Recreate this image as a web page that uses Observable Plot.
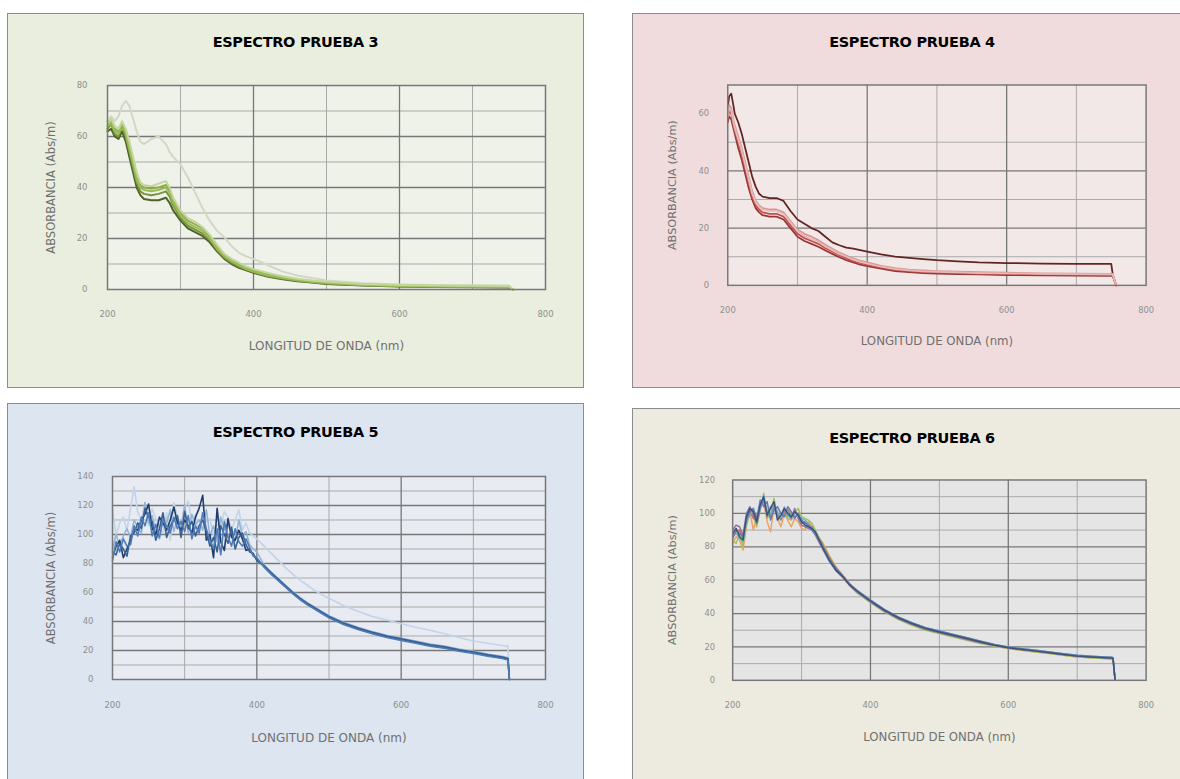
<!DOCTYPE html>
<html><head><meta charset="utf-8">
<script src="https://cdn.jsdelivr.net/npm/d3@7"></script>
<script src="https://cdn.jsdelivr.net/npm/@observablehq/plot@0.6"></script>
<style>
html,body{margin:0;padding:0;background:#fff}
body{width:1180px;height:779px;overflow:hidden;position:relative;font-family:"DejaVu Sans",sans-serif}
.panel{position:absolute;border:1.5px solid #8c8c8c;box-sizing:border-box}
.title{position:absolute;text-align:center;font-weight:bold;font-size:14.5px;line-height:18px;color:#000;letter-spacing:-0.3px}
.chart{position:absolute}
.chart svg{overflow:visible}
</style></head><body>
<script>
// ---------- shared tick labels ----------
const xTicks = [200, 400, 600, 800];
const xMajorGrid = [400, 600];
const xMinorGrid = [300, 500, 700];
const xTitle = "LONGITUD DE ONDA (nm)";
const yTitle = "ABSORBANCIA (Abs/m)";

// ---------- ESPECTRO PRUEBA 3 ----------
const wl3 = [200,205,210,215,220,225,230,235,240,245,250,260,270,280,285,290,300,310,320,330,340,350,360,370,380,390,400,420,440,460,480,500,550,600,650,700,750,755];
const p3Pale  = [66,68,66,68,72,74,72,67,62,58,57,59,60,57,54,52,49,44,38,32,27,23,20.5,17,14.5,13,12,9.5,7,5.5,4.5,3.5,2.5,2,1.8,1.7,1.6,0];
const p3Dark  = [62,63,60,59,62,58,52,46,40,37,35.5,35,35,36,34,31,27,24,22.5,21,18.5,15,12,10,8.5,7.5,6.5,5,4,3.2,2.7,2.2,1.6,1.2,1,0.9,0.8,0];
const p3Olive = [63,65,61,60,64,60,54,48,42,38.5,37.5,37,37.5,38.5,36.5,33,28,25,23.5,22,19.5,15.5,12.5,10.5,9,7.8,6.8,5.2,4.2,3.4,2.8,2.3,1.7,1.3,1.1,1,0.9,0];
const p3Mid2  = [66,64,63,62,63,62,56,50,44,41,40,39.5,40,41,39,35,30,27,25.5,24,21,16.5,13.5,11.5,10,8.5,7.5,6,4.8,3.9,3.2,2.7,2,1.6,1.4,1.3,1.2,0];
const p3Mid   = [64,66,62,61,65,61,55,49,43,40,39,38.5,39,40,38,34,29,26,24.5,23,20,16,13,11,9.5,8,7,5.5,4.5,3.6,3,2.5,1.8,1.4,1.2,1.1,1,0];
const p3Light = [65,67,64,63,66,63,58,52,46,42,41,40.5,41.5,42.5,40,36,31,28,26.5,24.5,21.5,17.5,14,12,10.5,9,8,6.5,5.2,4.2,3.5,3,2.2,1.8,1.6,1.5,1.4,0];
const p3Names  = ["P3-1","P3-2","P3-3","P3-4","P3-5","P3-6"];
const p3Colors = ["#d3d8c4","#4f6228","#77933c","#8fb04c","#9bbb59","#c3d69b"];
const p3YTicks = [0,20,40,60,80];

// ---------- ESPECTRO PRUEBA 4 ----------
const wl4 = [200,202,205,208,210,215,220,225,230,235,240,245,250,260,270,280,290,300,310,320,330,340,350,360,370,380,390,400,420,440,460,480,500,530,560,600,650,700,750,752,757];
const p4Dark   = [62,66,67,63,60,57,53,48,43,38,34.5,32,31,30.5,30.5,29.5,26,23,21.5,20,19,17,15,14,13.2,12.8,12.3,11.8,10.8,10,9.6,9.2,8.8,8.4,8,7.8,7.6,7.5,7.5,4,0];
const p4Maroon = [57,59,58,55,53,48,44,39,34,30,27,25.5,24.5,24,24,23,20,17,15.5,14.5,13.5,12.2,11,9.8,8.8,8,7.2,6.7,5.8,5,4.6,4.3,4.1,3.9,3.8,3.6,3.5,3.4,3.3,3.3,0];
const p4Red    = [58,61,60,56,54,50,46,41,36,31,28,26.5,25.5,25,25,24,21,18,16.5,15.5,14.5,13,11.8,10.5,9.5,8.5,7.8,7.2,6.2,5.4,5,4.7,4.5,4.3,4.1,4,3.8,3.7,3.6,3.6,0];
const p4Rose   = [60,63,62,58,56,52,48,43,38,33,29.5,28,27,26.5,26.5,25.5,22.5,19.5,18,17,15.8,14.2,12.8,11.5,10.4,9.4,8.6,8,6.8,6,5.5,5.2,5,4.8,4.6,4.4,4.2,4.1,4,4,0];
const p4Pink   = [59,62,61,57,55,51,47,42,37,32,29,27.5,26.5,26,26,25,22,19,17.2,16.2,15.2,13.6,12.3,11,10,9,8.2,7.6,6.5,5.7,5.2,4.9,4.7,4.5,4.3,4.2,4,3.9,3.8,3.8,0];
const p4Names  = ["P4-1","P4-2","P4-3","P4-4","P4-5"];
const p4Colors = ["#632523","#953735","#c0504d","#d99694","#e6b9b8"];
const p4YTicks = [0,20,40,60];

// ---------- ESPECTRO PRUEBA 5 ----------
const wl5 = [200,205,210,215,220,225,230,235,240,245,250,255,260,265,270,275,280,285,290,295,300,305,310,315,320,325,330,335,340,345,350,355,360,365,370,375,380,385,390,395,400,
             410,420,430,440,450,460,470,480,490,500,520,540,560,580,600,620,640,660,680,700,720,740,748,750];
const p5Pale = [118,99,108,112,103,118,133,115,110,122,106,118,111,104,101,115,96,122,112,105,118,123,108,114,101,113,109,111,99,107,105,116,112,104,110,117,103,108,101,99,97,
                92,87,82,77,72.5,68.5,65,61.5,58.5,56,51,47,43.5,41,38.5,36,34,31.5,29,26.5,25,23.5,23,0];
const p5D = [90,100,92,99,104,98,110,105,101,122,108,113,102,97,112,108,117,102,111,106,120,101,114,107,110,103,117,99,106,95,112,103,108,100,96,110,99,102,93,90,88,
             79,74,69.5,65,60.5,56.5,53,50,47,44,39.5,36,33,30.5,28.5,26.5,24.5,23,21,19.5,17.5,16,15,0];
const p5A = [84,92,96,84,90,96,104,103,110,114,121,104,100,112,108,103,110,119,108,103,110,106,101,112,118,127,96,100,84,118,95,89,111,98,96,103,97,89,90,86,83,
             78,73,68.5,64,59.5,55.5,52,49,46,43,38.5,35,32,29.5,27.5,25.5,23.5,22,20,18.5,16.5,15,14,0];
const p5B = [88,86,94,90,85,99,101,108,104,118,112,109,96,104,115,98,106,110,113,98,116,104,109,99,106,110,102,92,98,88,106,100,94,105,90,98,101,93,88,87,82,
             78.5,73.5,69,64.5,60,56,52.5,49.5,46.5,43.5,39,35.5,32.5,30,28,26,24,22.5,20.5,19,17,15.5,14.5,0];
const p5C = [82,95,88,97,92,93,106,99,112,106,115,99,107,98,110,106,101,112,104,109,102,113,97,106,101,115,104,96,90,104,86,109,98,92,104,95,92,97,91,85,84,
             77.5,72.5,68,63.5,59,55,51.5,48.5,45.5,42.5,38,34.5,31.5,29,27,25,23,21.5,19.5,18,16,14.5,13.5,0];
const p5Names  = ["P5-1","P5-2","P5-3","P5-4","P5-5"];
const p5Colors = ["#c2d3ea","#95b3d7","#1f3c6b","#376092","#4f7cb8"];
const p5YTicks = [0,20,40,60,80,100,120,140];

// ---------- ESPECTRO PRUEBA 6 ----------
const wl6 = [200,205,210,215,220,225,230,235,240,245,250,255,260,265,270,275,280,285,290,295,300,305,310,315,320,
             330,340,350,360,370,380,390,400,420,440,460,480,500,520,540,560,580,600,620,640,660,680,700,720,740,750,752,755];
const p6Orange = [82,86,84,78,92,101,90,98,104,108,95,89,104,97,92,100,96,92,97,95,91,90,95,92,88,
                  83,75,68,63,58,54,50.5,47.5,42,37,33.5,30.5,28.5,26.5,24.5,22.5,20.5,19,18,17,16,15,14,13.5,13,12.8,12.5,0];
const p6Green  = [84,82,88,80,94,100,98,92,102,112,97,100,109,98,97,101,97,96,100,103,98,97,96,94,90,
                  82,74,67.5,62,56.5,52.5,49.5,46.5,41,36.5,33,30,28,26,24,22,20.5,19,18,17,16,15,14,13.5,13,12.8,12.5,0];
const p6Purple = [90,93,92,87,100,104,99,94,103,109,101,98,105,100,96,102,99,97,103,97,93,92,91,90,87,
                  79,71.5,65.5,61.5,57,53,50,47,41.5,37,33.5,30.5,28.5,26.5,24.5,22.5,21,19.5,18.5,17.5,16.5,15.5,14.5,14,13.5,13.3,13,0];
const p6Red    = [87,89,90,85,97,102,97,96,106,107,98,104,103,99,98,101,102,99,98,100,94,95,93,92,88,
                  81.5,73.5,67,62,57,53.5,50.5,47.5,42,37.5,34,31,29,27,25,23,21,19.5,18.5,17.5,16.5,15.5,14.5,14,13.6,13.4,13.2,0];
const p6Aqua   = [86,88,85,83,95,99,102,96,104,111,100,99,106,101,97,104,98,100,99,98,97,96,94,91,89,
                  80.5,72.5,66.5,62,57.5,54,51,48,42.5,38,34.5,31.5,29.5,27.5,25.5,23.5,21.5,20,19,18,17,16,15,14.5,14,13.8,13.6,0];
const p6Blue   = [85,90,88,86,96,101,103,97,108,104,107,96,102,104,100,98,104,101,97,100,96,94,93,90,88,
                  81,73,67,62.5,57.5,54,51,48,42.5,38,34.5,31.5,29.5,27.5,25.5,23.5,21.5,20,19,18,17,16,15,14.5,14,13.8,13.5,0];
const p6Navy   = [88,91,86,84,98,103,101,95,105,110,99,103,107,96,99,103,100,98,101,99,95,93,92,91,89,
                  80,72,66,62,57,53.5,50.5,47.5,42,37.5,34,31,29,27,25,23,21,19.5,18.5,17.5,16.5,15.5,14.5,14,13.5,13.3,13,0];
const p6Names  = ["P6-1","P6-2","P6-3","P6-4","P6-5","P6-6","P6-7"];
const p6Colors = ["#f0a060","#a3c060","#8a72a8","#c46a66","#6ab2c8","#5b7fb0","#3b5378"];
const p6YTicks = [0,20,40,60,80,100,120];

// ---------- helpers ----------
function toRows(wl, names, lists) {
  return names.flatMap((name, k) => lists[k].map((v, i) => ({s: name, wl: wl[i], v})));
}

function addPanel(cfg) {
  const box = document.createElement("div");
  box.className = "panel";
  Object.assign(box.style, {left: cfg.box[0] + "px", top: cfg.box[1] + "px", width: cfg.box[2] + "px", height: cfg.box[3] + "px", background: cfg.bg});
  document.body.appendChild(box);

  const t = document.createElement("div");
  t.className = "title";
  t.textContent = cfg.title;
  Object.assign(t.style, {left: cfg.box[0] + "px", width: cfg.box[2] + "px", top: (cfg.titleY - 9) + "px"});
  document.body.appendChild(t);

  const yMajor = cfg.yTicks.slice(1, -1).filter(v => v < cfg.yMax);
  const chart = Plot.plot({
    width: cfg.svg[2], height: cfg.svg[3],
    marginTop: cfg.m[0], marginRight: cfg.m[1], marginBottom: cfg.m[2], marginLeft: cfg.m[3],
    style: {background: "transparent", fontFamily: "DejaVu Sans, sans-serif", fontSize: "8.5px"},
    x: {domain: [200, 800]},
    y: {domain: [0, cfg.yMax]},
    color: {type: "ordinal", domain: cfg.names, range: cfg.colors},
    marks: [
      Plot.frame({fill: cfg.plotBg, stroke: null}),
      Plot.gridX(xMinorGrid, {stroke: "#a9a9a9", strokeOpacity: 1, strokeWidth: 1}),
      Plot.gridY(cfg.yMinor, {stroke: "#a9a9a9", strokeOpacity: 1, strokeWidth: 1}),
      Plot.gridX(xMajorGrid, {stroke: "#777", strokeOpacity: 1, strokeWidth: 1.3}),
      Plot.gridY(yMajor, {stroke: "#777", strokeOpacity: 1, strokeWidth: 1.3}),
      Plot.line(cfg.rows, {x: "wl", y: "v", z: "s", stroke: "s", strokeWidth: cfg.sw}),
      Plot.frame({stroke: "#777", strokeWidth: 1.5}),
      Plot.axisX(xTicks, {tickSize: 0, tickPadding: cfg.xPad, fill: "#8f8f8f", fontSize: 8.5, label: null}),
      Plot.axisY(cfg.yTicks, {tickSize: 0, tickPadding: cfg.yPad, fill: "#8f8f8f", fontSize: 8.5, label: null}),
      Plot.text([xTitle], {text: d => d, frameAnchor: "bottom", dy: cfg.xTitleDy, fill: "#707070", fontSize: 12}),
      Plot.text([yTitle], {text: d => d, frameAnchor: "left", textAnchor: "middle", dx: cfg.yTitleDx, rotate: -90, fill: "#707070", fontSize: 11.5})
    ]
  });
  const wrap = document.createElement("div");
  wrap.className = "chart";
  Object.assign(wrap.style, {left: cfg.svg[0] + "px", top: cfg.svg[1] + "px"});
  wrap.appendChild(chart);
  document.body.appendChild(wrap);
}

addPanel({
  title: "ESPECTRO PRUEBA 3", box: [7, 13, 577, 375], bg: "#eaeedf", plotBg: "#eff2e9", titleY: 42,
  svg: [7, 58, 577, 310], m: [27, 39, 79, 100], yMax: 80, yTicks: p3YTicks, yMinor: [10,30,50,70],
  names: p3Names, colors: p3Colors, sw: 2,
  rows: toRows(wl3, p3Names, [p3Pale, p3Dark, p3Olive, p3Mid2, p3Mid, p3Light]),
  xPad: 21, yPad: 20, xTitleDy: 60, yTitleDx: -56
});
addPanel({
  title: "ESPECTRO PRUEBA 4", box: [632, 13, 560, 375], bg: "#f0dcdc", plotBg: "#f3e8e8", titleY: 42,
  svg: [632, 58, 558, 310], m: [27, 35, 79, 97], yMax: 70, yTicks: p4YTicks, yMinor: [10,30,50],
  names: p4Names, colors: p4Colors, sw: 1.8,
  rows: toRows(wl4, p4Names, [p4Dark, p4Maroon, p4Red, p4Rose, p4Pink]),
  xPad: 22, yPad: 19, xTitleDy: 61, yTitleDx: -56
});
addPanel({
  title: "ESPECTRO PRUEBA 5", box: [7, 403, 577, 380], bg: "#dce5f0", plotBg: "#e8ecf2", titleY: 432,
  svg: [7, 448, 577, 310], m: [28, 39, 79, 105], yMax: 140, yTicks: p5YTicks, yMinor: [10,30,50,70,90,110,130],
  names: p5Names, colors: p5Colors, sw: 1.6,
  rows: toRows(wl5, p5Names, [p5Pale, p5D, p5A, p5B, p5C]),
  xPad: 22, yPad: 19, xTitleDy: 62, yTitleDx: -61
});
addPanel({
  title: "ESPECTRO PRUEBA 6", box: [632, 408, 560, 380], bg: "#edebe0", plotBg: "#e5e5e5", titleY: 438,
  svg: [632, 452, 558, 310], m: [28, 35, 78, 102], yMax: 120, yTicks: p6YTicks, yMinor: [10,30,50,70,90,110],
  names: p6Names, colors: p6Colors, sw: 1.5,
  rows: toRows(wl6, p6Names, [p6Orange, p6Green, p6Purple, p6Red, p6Aqua, p6Blue, p6Navy]),
  xPad: 22, yPad: 18, xTitleDy: 62, yTitleDx: -61
});
</script>
</body></html>
